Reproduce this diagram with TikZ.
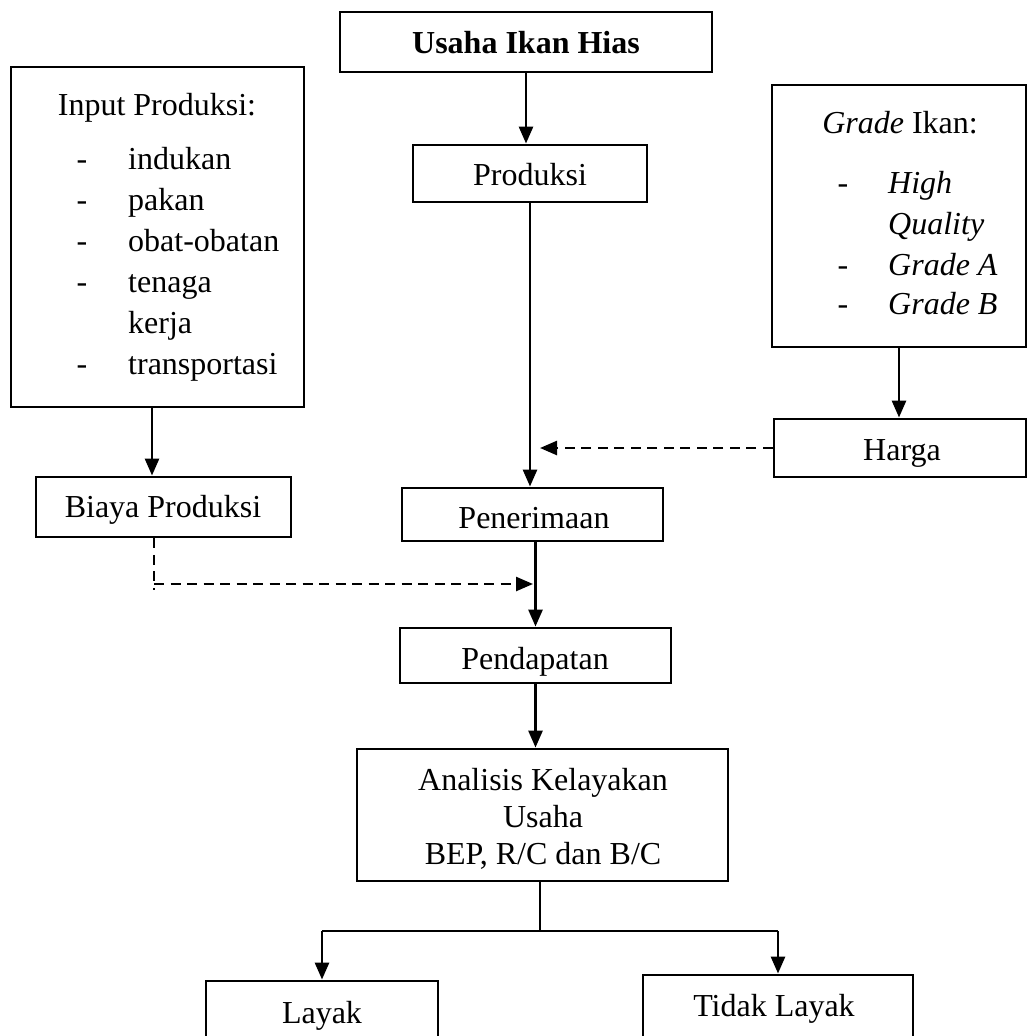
\documentclass[tikz,border=0pt]{standalone}
\usepackage{fontspec}
\setmainfont{Liberation Serif}
\usetikzlibrary{arrows.meta}
\begin{document}
\begin{tikzpicture}[x=1pt,y=-1pt,
  font=\fontsize{32}{37}\selectfont,
  box/.style={draw, line width=2.9pt, inner sep=0pt},
  arr/.style={line width=2.8pt, -{Triangle[width=14pt,length=17pt]}},
  dsh/.style={line width=2.5pt, dash pattern=on 10pt off 6.5pt},
  darr/.style={dsh, -{Triangle[width=14pt,length=17pt]}},
  thinline/.style={line width=1.3pt},
  txt/.style={anchor=base, inner sep=0pt},
  txtw/.style={anchor=base west, inner sep=0pt}]
\clip (0,0) rectangle (1028,1036);
\fill[white] (0,0) rectangle (1028,1036);

% boxes
\node[box, minimum width=372pt, minimum height=60pt] (usaha) at (526,42) {};
\node[box, minimum width=234pt, minimum height=57pt] (prod) at (530,173.5) {};
\node[box, minimum width=293pt, minimum height=340pt] (input) at (157.5,237) {};
\node[box, minimum width=254pt, minimum height=262pt] (grade) at (899,216) {};
\node[box, minimum width=252pt, minimum height=58pt] (harga) at (900,448) {};
\node[box, minimum width=255pt, minimum height=60pt] (biaya) at (163.5,507) {};
\node[box, minimum width=261pt, minimum height=53pt] (pener) at (532.5,514.5) {};
\node[box, minimum width=271pt, minimum height=55pt] (penda) at (535.5,655.5) {};
\node[box, minimum width=371pt, minimum height=132pt] (anal) at (542.5,815) {};
\node[box, minimum width=232pt, minimum height=89pt] (layak) at (322,1025.5) {};
\node[box, minimum width=270pt, minimum height=95pt] (tidak) at (778,1022.5) {};

% texts
\node[txt] (tusaha) at (526,53) {\textbf{Usaha Ikan Hias}};
\node[txt] (tprod) at (530,185) {Produksi};
\node[txt] (tinput) at (157,115) {Input Produksi:};
\node[txt] (d1) at (82,169) {-};
\node[txtw] (i1) at (128,169) {indukan};
\node[txt] (d2) at (82,210) {-};
\node[txtw] (i2) at (128,210) {pakan};
\node[txt] (d3) at (82,251) {-};
\node[txtw] (i3) at (128,251) {obat-obatan};
\node[txt] (d4) at (82,292) {-};
\node[txtw] (i4) at (128,292) {tenaga};
\node[txtw] (i5) at (128,333) {kerja};
\node[txt] (d6) at (82,374) {-};
\node[txtw] (i6) at (128,374) {transportasi};

\node[txt] (tgrade) at (900,133) {\textit{Grade} Ikan:};
\node[txt] (g1) at (843,193) {-};
\node[txtw] (h1) at (888,193) {\textit{High}};
\node[txtw] (h2) at (888,234) {\textit{Quality}};
\node[txt] (g3) at (843,275) {-};
\node[txtw] (h3) at (888,275) {\textit{Grade A}};
\node[txt] (g4) at (843,314) {-};
\node[txtw] (h4) at (888,314) {\textit{Grade B}};

\node[txt] (tharga) at (902,460) {Harga};
\node[txt] (tbiaya) at (163,517) {Biaya Produksi};
\node[txt] (tpener) at (534,528) {Penerimaan};
\node[txt] (tpenda) at (535,669) {Pendapatan};
\node[txt] (ta1) at (543,790) {Analisis Kelayakan};
\node[txt] (ta2) at (543,827) {Usaha};
\node[txt] (ta3) at (543,864) {BEP, R/C dan B/C};
\node[txt] (tlayak) at (322,1023) {Layak};
\node[txt] (ttidak) at (774,1016) {Tidak Layak};

% connectors
\draw[arr] (usaha.south) -- (usaha.south |- prod.north);
\draw[arr] (prod.south) -- (prod.south |- pener.north);
\draw[arr] (grade.south) -- (grade.south |- harga.north);
\coordinate (hp) at (540,448);
\draw[darr] (harga.west) -- (hp);
\coordinate (ib) at (152,407);
\draw[arr] (ib) -- (ib |- biaya.north);
\draw[arr] (pener.south -| penda.north) -- (penda.north);
\coordinate (bd1) at (154,590);
\coordinate (bd2) at (533,584);
\draw[dsh] (biaya.south -| bd1) -- (bd1);
\draw[darr] (bd1 |- bd2) -- (bd2);
\draw[arr] (penda.south) -- (penda.south |- anal.north);
\coordinate (split) at (540,931);
\draw[thinline] (anal.south -| split) -- (split);
\draw[thinline] (split -| layak.north) -- (split -| tidak.north);
\draw[arr] (split -| layak.north) -- (layak.north);
\draw[arr] (split -| tidak.north) -- (tidak.north);
\end{tikzpicture}
\end{document}
